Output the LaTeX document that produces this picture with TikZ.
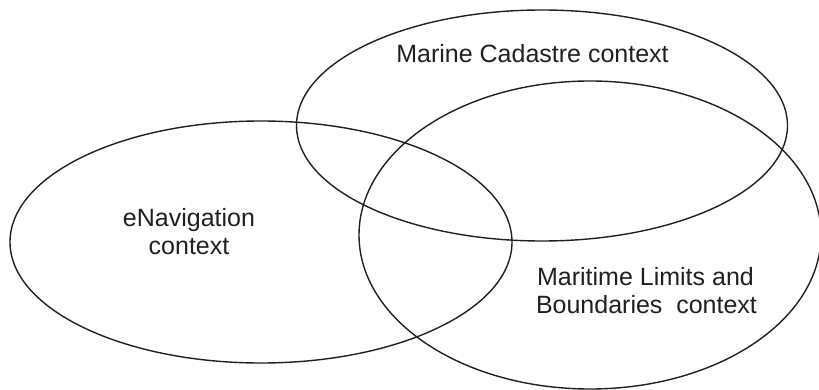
\documentclass[tikz,border=0pt]{standalone}
\usepackage{fontspec}
\setmainfont{Liberation Sans}
\definecolor{ink}{HTML}{231F20}
\begin{document}
\begin{tikzpicture}[x=1pt,y=-1pt,
  region/.style={draw=ink, line width=1.4pt},
  lbl/.style={text=ink, font=\fontsize{25}{28}\selectfont, inner sep=0pt, anchor=base}]
  \useasboundingbox (0,0) rectangle (819,390);
  % the three overlapping contexts
  \coordinate (enavc) at (261,242);
  \coordinate (cadc) at (542,125.5);
  \coordinate (mlbc) at (590,235);
  \draw[region] (enavc) ellipse [x radius=251, y radius=121];
  \draw[region] (cadc) ellipse [x radius=245.5, y radius=115.5];
  \draw[region] (mlbc) ellipse [x radius=231, y radius=154];
  % labels
  \node[lbl] (cadtxt) at (532.5,62.7) {Marine Cadastre context};
  \node[lbl] (enavtxta) at (189,226) {eNavigation};
  \node[lbl] (enavtxtb) at (189,254) {context};
  \node[lbl] (mlbtxta) at (645.5,285) {Maritime Limits and};
  \node[lbl] (mlbtxtb) at (646.5,313) {Boundaries\ \ context};
\end{tikzpicture}
\end{document}
